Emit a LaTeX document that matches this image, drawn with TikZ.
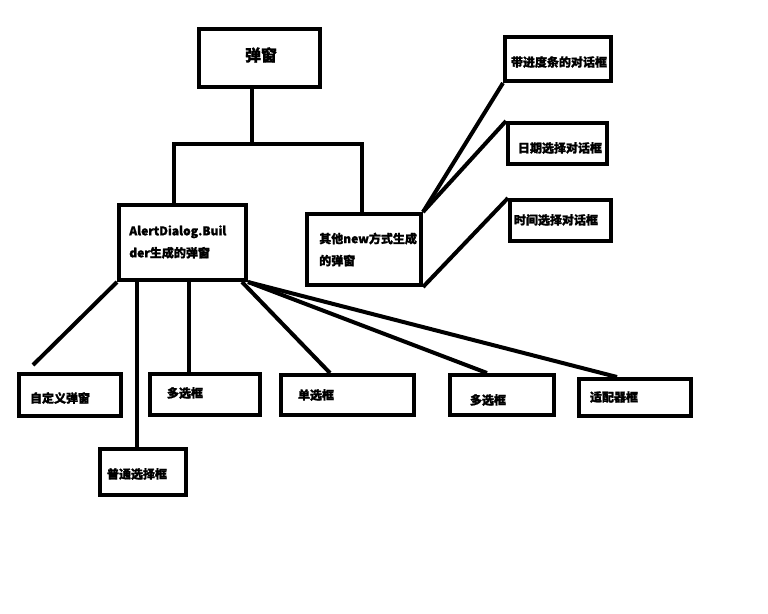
\documentclass[tikz,border=0pt]{standalone}
\usepackage{fontspec}
\setmainfont{Noto Sans CJK SC}[FakeBold=1.2]
\usetikzlibrary{calc}
\begin{document}
\begin{tikzpicture}[x=0.75pt,y=-0.75pt,
  box/.style={draw=black,line width=3pt,fill=white,inner sep=0pt},
  lbl/.style={inner sep=0pt,font=\fontsize{9pt}{16.5pt}\selectfont\bfseries,align=left},
  conn/.style={draw=black,line width=3pt}]
\useasboundingbox (0,0) rectangle (768,614);
% boxes
\node[box,minimum width=121*0.75pt,minimum height=58*0.75pt] (top) at (259.5,58) {};
\node[box,minimum width=127*0.75pt,minimum height=75*0.75pt] (alert) at (182.5,242.5) {};
\node[box,minimum width=114*0.75pt,minimum height=71*0.75pt] (other) at (364,249.5) {};
\node[box,minimum width=106*0.75pt,minimum height=44*0.75pt] (prog) at (558,59) {};
\node[box,minimum width=99*0.75pt,minimum height=41*0.75pt] (date) at (557.5,143.5) {};
\node[box,minimum width=101*0.75pt,minimum height=41*0.75pt] (time) at (560.5,220.5) {};
\node[box,minimum width=102*0.75pt,minimum height=42*0.75pt] (custom) at (70,395) {};
\node[box,minimum width=110*0.75pt,minimum height=41*0.75pt] (multa) at (205,394.5) {};
\node[box,minimum width=133*0.75pt,minimum height=40*0.75pt] (single) at (347.5,395) {};
\node[box,minimum width=86*0.75pt,minimum height=46*0.75pt] (normal) at (143,472) {};
\node[box,minimum width=104*0.75pt,minimum height=40*0.75pt] (multb) at (502,395) {};
\node[box,minimum width=112*0.75pt,minimum height=37*0.75pt] (adapter) at (635,397.5) {};
% labels
\node[lbl,font=\fontsize{12pt}{14pt}\selectfont\bfseries] (ttop) at (261,55) {弹窗};
\node[lbl,anchor=west] (talert) at (129,242) {AlertDialog.Buil\\der生成的弹窗};
\node[lbl,anchor=west] (tother) at (319,249.5) {其他new方式生成\\的弹窗};
\node[lbl] (tprog) at (559,62) {带进度条的对话框};
\node[lbl] (tdate) at (560,148) {日期选择对话框};
\node[lbl] (ttime) at (556,220) {时间选择对话框};
\node[lbl] (tcustom) at (60,398) {自定义弹窗};
\node[lbl] (tmulta) at (185,393) {多选框};
\node[lbl] (tsingle) at (316,395) {单选框};
\node[lbl] (tnormal) at (137,474) {普通选择框};
\node[lbl] (tmultb) at (488,400) {多选框};
\node[lbl] (tadapter) at (614,397) {适配器框};
% junctions
\coordinate (jt) at (252,144);
\coordinate (j1) at (174,144);
\coordinate (j2) at (362,144);
% connectors
\draw[conn] (top.south -| jt) -- (jt);
\draw[conn,line cap=rect] (j1) -- (j2);
\draw[conn] (j1) -- (alert.north -| j1);
\draw[conn] (j2) -- (other.north -| j2);
\draw[conn] (other.north east) -- (prog.south west);
\draw[conn] (other.north east) -- (date.north west);
\draw[conn] (other.south east) -- (time.north west);
\coordinate (ecustom) at ($(custom.north west)+(16,-7)$);
\draw[conn] (alert.south west) -- (ecustom);
\draw[conn] (alert.south -| 137,0) -- (normal.north -| 137,0);
\draw[conn] (alert.south -| 189,0) -- (multa.north -| 189,0);
\draw[conn] (alert.south -| 242,0) -- (single.north -| 330,0);
\draw[conn] (alert.south east) -- (multb.north -| 487,0);
\draw[conn] (alert.south east) -- (adapter.north -| 617,0);
\end{tikzpicture}
\end{document}
